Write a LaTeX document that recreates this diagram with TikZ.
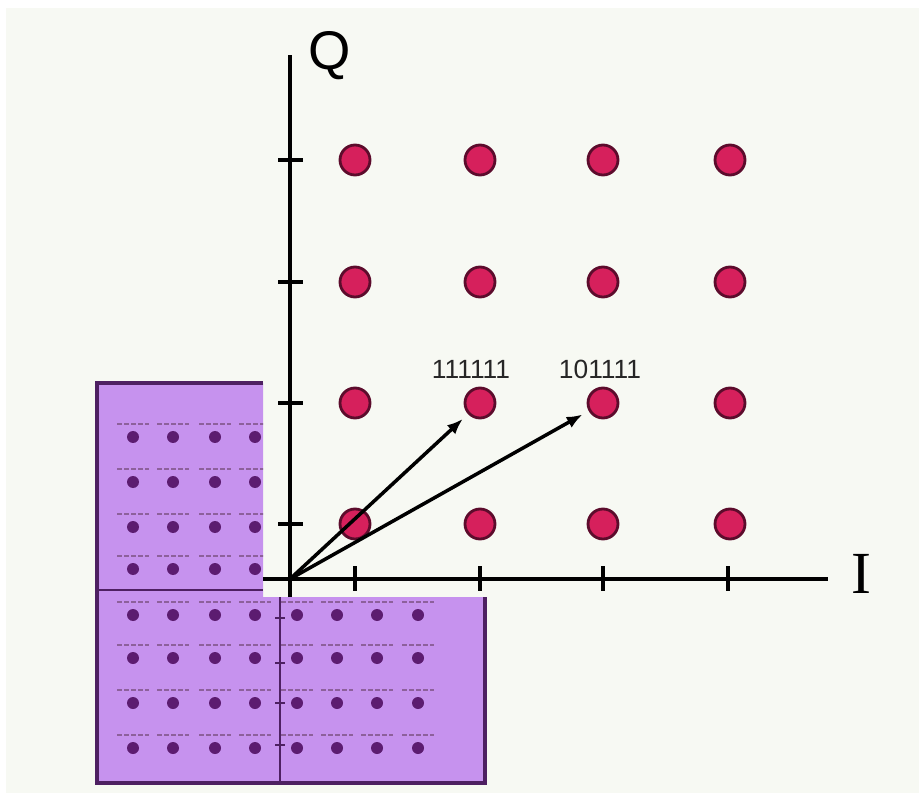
\documentclass[tikz,border=0pt]{standalone}
\usepackage{fontspec}
\setmainfont{Liberation Sans}
\newfontfamily\serifI{Liberation Serif}
\usepackage{xcolor}
\usetikzlibrary{arrows.meta}

\definecolor{bgpaper}{RGB}{247,249,243}
\definecolor{qamdot}{RGB}{214,32,92}
\definecolor{qamedge}{RGB}{92,12,44}
\definecolor{boxfill}{RGB}{198,146,238}
\definecolor{boxedge}{RGB}{78,32,98}
\definecolor{minidot}{RGB}{92,28,112}

\tikzset{
	qam/.style={circle,fill=qamdot,draw=qamedge,line width=1.6pt,inner sep=0pt,minimum size=0.6cm},
	axis/.style={line width=2.2pt},
	vec/.style={-{Latex[length=9pt,width=7pt]},line width=2pt,shorten >=4pt},
}

\begin{document}
\begin{tikzpicture}[x=0.02cm,y=-0.02cm]
	\useasboundingbox (0,0) rectangle (919,793);
	\fill[white] (0,0) rectangle (919,793);
	\fill[bgpaper] (6,8) rectangle (919,793);
	
	% small 64-QAM picture behind the axes
	\fill[boxfill] (97,383) -- (263,383) -- (263,597) -- (485,597) -- (485,783) -- (97,783) -- cycle;
	\begin{scope}
		\clip (97,383) -- (263,383) -- (263,597) -- (485,597) -- (485,783) -- (97,783) -- cycle;
		\foreach \x in {133,173,215,255,297,337,377,418}
		\foreach \y in {437,482,527,569,615,658,703,748} {
			\fill[minidot] (\x,\y) circle[radius=6];
			\draw[minidot!70,line width=1.2pt,dash pattern=on 3pt off 1pt] (\x-16,\y-13) -- (\x+16,\y-13);
		}
		\draw[boxedge,line width=1.4pt] (97,590) -- (263,590);
		\draw[boxedge,line width=1.4pt] (280,597) -- (280,783);
		\draw[boxedge,line width=0.8pt] (275,618) -- (285,618);
		\draw[boxedge,line width=0.8pt] (275,663) -- (285,663);
		\draw[boxedge,line width=0.8pt] (275,703) -- (285,703);
		\draw[boxedge,line width=0.8pt] (275,745) -- (285,745);
	\end{scope}
	\draw[boxedge,line width=2pt] (263,383) -- (97,383) -- (97,783) -- (485,783) -- (485,597);
	
	% axes
	\coordinate (o) at (290,579);
	\draw[axis] (263,579) -- (828,579);
	\draw[axis] (290,597) -- (290,55);
	\draw[axis] (355,566) -- (355,591);
	\draw[axis] (480,566) -- (480,591);
	\draw[axis] (603,566) -- (603,591);
	\draw[axis] (728,566) -- (728,591);
	\draw[axis] (278,160) -- (303,160);
	\draw[axis] (278,282) -- (303,282);
	\draw[axis] (278,403) -- (303,403);
	\draw[axis] (278,524) -- (303,524);
	
	\node[font=\fontsize{31}{31}\selectfont] (qlab) at (330,56) {Q};
	\node[font=\serifI\fontsize{34}{34}\selectfont] (ilab) at (861,574) {I};
	
	% constellation points
	\node[qam] (d11) at (355,524) {};
	\node[qam] (d21) at (480,524) {};
	\node[qam] (d31) at (603,524) {};
	\node[qam] (d41) at (730,524) {};
	\node[qam] (d12) at (355,403) {};
	\node[qam] (d22) at (480,403) {};
	\node[qam] (d32) at (603,403) {};
	\node[qam] (d42) at (730,403) {};
	\node[qam] (d13) at (355,282) {};
	\node[qam] (d23) at (480,282) {};
	\node[qam] (d33) at (603,282) {};
	\node[qam] (d43) at (730,282) {};
	\node[qam] (d14) at (355,160) {};
	\node[qam] (d24) at (480,160) {};
	\node[qam] (d34) at (603,160) {};
	\node[qam] (d44) at (730,160) {};
	
	\node[font=\fontsize{15}{15}\selectfont,text=black!85] (l22) at (471,369) {111111};
	\node[font=\fontsize{15}{15}\selectfont,text=black!85] (l32) at (600,369) {101111};
	
	\draw[vec] (o) -- (d22);
	\draw[vec] (o) -- (d32);
\end{tikzpicture}
\end{document}
